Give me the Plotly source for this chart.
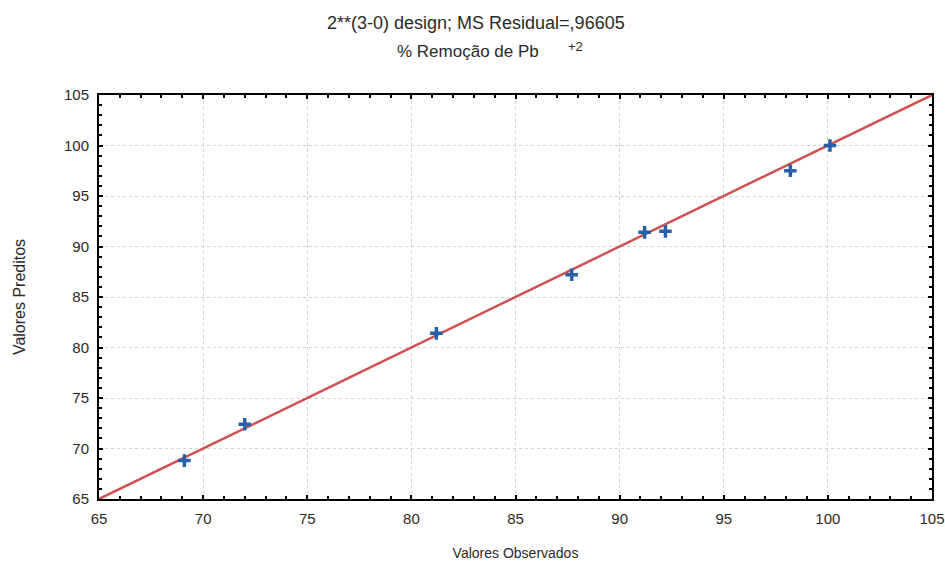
import plotly.graph_objects as go

observed = [69.1, 72.0, 81.2, 87.7, 91.2, 92.2, 98.2, 100.1]
predicted = [68.8, 72.4, 81.4, 87.2, 91.4, 91.5, 97.5, 100.0]
line_x = [65, 105]
line_y = [65, 105]
ticks = [65, 70, 75, 80, 85, 90, 95, 100, 105]

title1 = "2**(3-0) design; MS Residual=,96605"
title2 = "% Remoção de Pb"
xtitle = "Valores Observados"
ytitle = "Valores Preditos"

FONT = "Liberation Sans, Arial, sans-serif"
TXT = "#2a2a2a"

fig = go.Figure()
fig.add_trace(go.Scatter(x=line_x, y=line_y, mode="lines",
                         line=dict(color="#cf5250", width=2.5), showlegend=False))
fig.add_trace(go.Scatter(x=observed, y=predicted, mode="markers",
                         marker=dict(symbol="cross-thin", size=9,
                                     line=dict(color="#2860a8", width=3.5)),
                         showlegend=False))

axis_common = dict(
    range=[65, 105], tickvals=ticks, showline=True, linecolor="black", linewidth=2,
    mirror="allticks", ticks="inside", ticklen=4, tickwidth=2, tickcolor="black",
    showgrid=True, gridcolor="#d2d2d2", griddash="dot", gridwidth=1,
    zeroline=False, tickfont=dict(family=FONT, size=15, color=TXT),
    automargin=False,
    minor=dict(dtick=1, ticks="inside", ticklen=3, tickwidth=1.5, tickcolor="black", showgrid=False),
)

fig.update_xaxes(**axis_common, ticklabelstandoff=5,
                 title=dict(text=xtitle, font=dict(family=FONT, size=14, color=TXT), standoff=22))
fig.update_yaxes(**axis_common, ticklabelstandoff=5,
                 title=dict(text=ytitle, font=dict(family=FONT, size=16, color=TXT), standoff=34))

fig.add_annotation(text=title1, xref="paper", yref="paper", x=0.453, y=1.0, yshift=72,
                   showarrow=False, font=dict(family=FONT, size=18, color=TXT), xanchor="center", yanchor="middle")
fig.add_annotation(text=title2, xref="paper", yref="paper", x=0.443, y=1.0, yshift=44,
                   showarrow=False, font=dict(family=FONT, size=17, color=TXT), xanchor="center", yanchor="middle")
fig.add_annotation(text="+2", xref="paper", yref="paper", x=0.561, y=1.0, yshift=49,
                   showarrow=False, font=dict(family=FONT, size=13, color=TXT), xanchor="left", yanchor="middle")

fig.update_layout(
    width=945, height=565,
    margin=dict(l=99, r=13, t=95, b=66),
    paper_bgcolor="white", plot_bgcolor="white",
    font=dict(family=FONT),
)

fig.write_html("out.html")
